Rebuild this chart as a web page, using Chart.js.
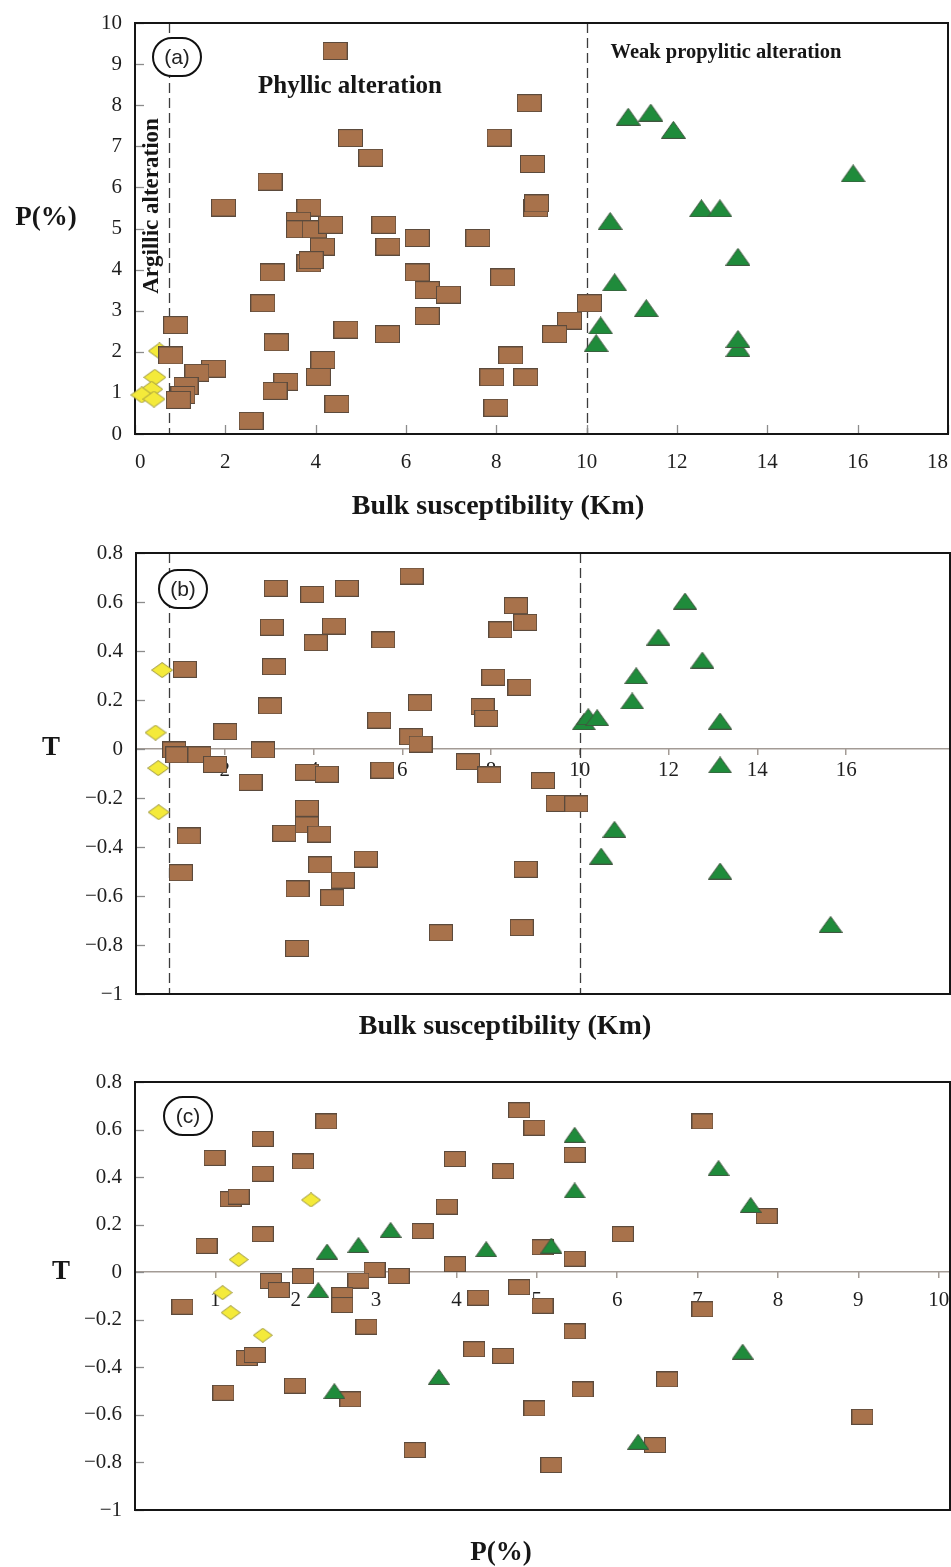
<!DOCTYPE html>
<html>
<head>
<meta charset="utf-8">
<script src="https://cdn.jsdelivr.net/npm/chart.js@4.4.0/dist/chart.umd.min.js"></script>
<style>
  body { margin: 0; background: #fff; width: 951px; height: 1567px; overflow: hidden; position: relative; }
  .panel { position: absolute; left: 0; width: 951px; }
</style>
</head>
<body>
<div class="panel" style="top:0;height:530px"><canvas id="chartA"></canvas></div>
<div class="panel" style="top:530px;height:520px"><canvas id="chartB"></canvas></div>
<div class="panel" style="top:1050px;height:517px"><canvas id="chartC"></canvas></div>
<script>
// (a) bulk susceptibility Km vs P(%)
const kmP_phyllic = [[4.43,9.32],[4.77,7.20],[5.22,6.72],[2.99,6.14],[1.96,5.51],[3.85,5.51],[3.62,5.19],[3.62,4.98],[3.97,4.98],[4.33,5.09],[4.15,4.56],[3.85,4.15],[3.90,4.23],[3.04,3.93],[2.83,3.18],[5.51,5.09],[5.60,4.56],[6.25,4.77],[6.25,3.93],[6.47,3.50],[6.94,3.39],[6.47,2.87],[5.59,2.43],[4.67,2.54],[3.13,2.23],[0.90,2.65],[0.79,1.91],[1.74,1.59],[1.37,1.49],[1.13,1.17],[1.06,0.95],[0.96,0.83],[4.16,1.80],[4.06,1.39],[3.34,1.27],[3.10,1.05],[4.47,0.73],[2.57,0.32],[8.73,8.05],[8.06,7.21],[8.80,6.57],[8.87,5.49],[8.89,5.61],[7.59,4.77],[8.14,3.81],[10.06,3.18],[9.62,2.76],[9.29,2.43],[8.32,1.91],[7.90,1.38],[8.65,1.38],[7.99,0.64]];
const kmP_propylitic = [[10.92,7.72],[11.42,7.82],[11.92,7.40],[15.90,6.34],[12.54,5.49],[12.95,5.49],[10.52,5.18],[13.35,4.31],[10.62,3.69],[11.32,3.06],[10.31,2.64],[10.21,2.21],[13.35,2.09],[13.35,2.31]];
const kmP_argillic = [[0.54,2.02],[0.44,1.38],[0.37,1.09],[0.15,0.95],[0.42,0.85]];

// (b) bulk susceptibility Km vs T
const kmT_phyllic = [[3.15,0.656],[3.97,0.631],[4.75,0.656],[6.21,0.706],[3.06,0.497],[4.46,0.502],[4.05,0.434],[5.57,0.445],[3.11,0.336],[1.10,0.325],[3.02,0.176],[6.40,0.189],[5.48,0.118],[2.01,0.071],[6.20,0.050],[6.41,0.020],[2.86,-0.004],[0.86,-0.004],[0.93,-0.024],[1.43,-0.024],[1.78,-0.063],[2.58,-0.136],[3.85,-0.095],[4.30,-0.103],[5.55,-0.086],[3.85,-0.242],[3.85,-0.310],[3.34,-0.344],[4.13,-0.347],[1.19,-0.355],[1.01,-0.505],[4.15,-0.473],[4.66,-0.535],[5.18,-0.449],[3.64,-0.571],[4.42,-0.607],[6.87,-0.750],[3.63,-0.814],[8.56,0.585],[8.77,0.517],[8.21,0.486],[8.05,0.293],[8.64,0.252],[7.81,0.173],[7.89,0.125],[7.48,-0.052],[7.96,-0.106],[9.17,-0.129],[9.50,-0.222],[9.92,-0.224],[8.78,-0.491],[8.69,-0.729]];
const kmT_propylitic = [[12.37,0.604],[11.77,0.457],[12.76,0.363],[11.27,0.299],[11.18,0.196],[13.16,0.114],[10.09,0.111],[10.19,0.132],[10.39,0.128],[13.16,-0.065],[10.78,-0.328],[10.48,-0.437],[13.16,-0.498],[15.65,-0.716]];
const kmT_argillic = [[0.59,0.322],[0.44,0.067],[0.50,-0.078],[0.51,-0.258]];

// (c) P(%) vs T
const pT_phyllic = [[2.38,0.634],[1.59,0.561],[0.99,0.481],[2.09,0.466],[1.59,0.414],[1.19,0.307],[1.29,0.318],[1.59,0.160],[0.89,0.111],[3.98,0.476],[3.88,0.276],[3.58,0.173],[3.98,0.034],[2.09,-0.016],[1.69,-0.037],[1.79,-0.075],[2.98,0.010],[2.78,-0.035],[3.28,-0.016],[2.58,-0.096],[2.58,-0.138],[0.59,-0.145],[2.88,-0.229],[4.27,-0.107],[4.22,-0.324],[1.39,-0.361],[1.49,-0.348],[1.10,-0.507],[1.99,-0.477],[2.68,-0.535],[3.48,-0.748],[4.78,0.681],[4.97,0.608],[7.06,0.634],[5.47,0.494],[4.58,0.425],[7.86,0.236],[6.07,0.160],[5.07,0.105],[5.47,0.057],[4.78,-0.063],[5.07,-0.141],[7.06,-0.156],[5.47,-0.249],[4.58,-0.352],[6.62,-0.451],[5.57,-0.493],[4.97,-0.573],[9.05,-0.608],[6.47,-0.727],[5.18,-0.811]];
const pT_propylitic = [[3.18,0.178],[2.78,0.115],[2.39,0.087],[2.28,-0.075],[2.48,-0.500],[3.78,-0.440],[4.37,0.097],[5.18,0.112],[5.47,0.578],[5.47,0.344],[7.26,0.438],[7.66,0.283],[7.56,-0.334],[6.26,-0.713]];
const pT_argillic = [[2.19,0.304],[1.29,0.053],[1.09,-0.086],[1.19,-0.170],[1.59,-0.265]];

// tick values
const kmTicksA = [0, 2, 4, 6, 8, 10, 12, 14, 16, 18];
const pTicksA = [0, 1, 2, 3, 4, 5, 6, 7, 8, 9, 10];
const kmTicksB = [2, 4, 6, 8, 10, 12, 14, 16];
const tTicks = [-1, -0.8, -0.6, -0.4, -0.2, 0, 0.2, 0.4, 0.6, 0.8];
const pTicksC = [1, 2, 3, 4, 5, 6, 7, 8, 9, 10];

// alteration boundaries on Km
const argillicLimit = 0.75;
const propyliticLimit = 10;

Chart.defaults.font.family = '"Liberation Serif", "Times New Roman", serif';
Chart.defaults.color = '#1e1e1e';

// marker sprites: w x h in px
function makeMark(kind, w, h) {
  const c = document.createElement('canvas');
  c.width = w + 1; c.height = h + 1;
  const g = c.getContext('2d');
  g.lineWidth = 1;
  if (kind === 'rect') {
    g.fillStyle = '#a8724b'; g.fillRect(0.5, 0.5, w, h);
    g.strokeStyle = '#5b4a3c'; g.strokeRect(0.5, 0.5, w, h);
  } else if (kind === 'tri') {
    g.beginPath(); g.moveTo(0.5 + w / 2, 0.5); g.lineTo(w + 0.5, h + 0.5); g.lineTo(0.5, h + 0.5); g.closePath();
    g.fillStyle = '#1f8b3b'; g.fill();
    g.strokeStyle = '#40553f'; g.stroke();
  } else {
    g.beginPath(); g.moveTo(0.5 + w / 2, 0.5); g.lineTo(w + 0.5, 0.5 + h / 2); g.lineTo(0.5 + w / 2, h + 0.5); g.lineTo(0.5, 0.5 + h / 2); g.closePath();
    g.fillStyle = '#f4ea3a'; g.fill();
    g.strokeStyle = '#9c9640'; g.stroke();
  }
  return c;
}

const toXY = arr => arr.map(([x, y]) => ({ x, y }));
const fixTicks = list => s => { s.ticks = list.map(v => ({ value: v })); };
const fmt = v => (v < 0 ? '\u2212' : '') + Math.abs(v);
const zeroLine = '#a39b95';

function deco(o) {
  return {
    id: 'deco',
    beforeDatasetsDraw(chart) {
      const { ctx, chartArea: a, scales: { x, y } } = chart;
      const line = (x1, y1, x2, y2) => { ctx.beginPath(); ctx.moveTo(x1, y1); ctx.lineTo(x2, y2); ctx.stroke(); };
      ctx.save();
      // dashed alteration limits
      ctx.strokeStyle = '#3c3c3c'; ctx.lineWidth = 1.3; ctx.setLineDash([10, 5]);
      o.limits.forEach(v => {
        const px = Math.round(x.getPixelForValue(v)) + 0.5;
        line(px, a.top, px, a.bottom);
      });
      ctx.setLineDash([]);
      // inward tick marks
      ctx.strokeStyle = '#8c8c8c'; ctx.lineWidth = 1.3;
      y.ticks.forEach(t => {
        const py = Math.round(y.getPixelForValue(t.value)) + 0.5;
        line(a.left, py, a.left + 9, py);
      });
      if (o.bottomTicks) {
        x.ticks.forEach(t => {
          const px = Math.round(x.getPixelForValue(t.value)) + 0.5;
          line(px, a.bottom, px, a.bottom - 9);
        });
      }
      // frame
      ctx.strokeStyle = '#151515'; ctx.lineWidth = 2;
      ctx.strokeRect(a.left, a.top, a.right - a.left, a.bottom - a.top);
      // panel tag
      const [cx, cy] = o.tagAt;
      ctx.beginPath(); ctx.roundRect(cx - 24, cy - 19, 48, 38, 19);
      ctx.fillStyle = '#fff'; ctx.fill();
      ctx.strokeStyle = '#111'; ctx.lineWidth = 2; ctx.stroke();
      ctx.fillStyle = '#222'; ctx.font = '21px "Liberation Sans", Arial, sans-serif';
      ctx.textAlign = 'center'; ctx.textBaseline = 'middle';
      ctx.fillText(o.tag, cx, cy + 1);
      ctx.restore();
    },
    afterDraw(chart) {
      const ctx = chart.ctx;
      ctx.save();
      ctx.fillStyle = '#161616'; ctx.textAlign = 'center'; ctx.textBaseline = 'middle';
      o.texts.forEach(t => {
        ctx.font = 'bold ' + t.size + 'px "Liberation Serif", "Times New Roman", serif';
        if (t.rot) {
          ctx.save(); ctx.translate(t.x, t.y); ctx.rotate(-Math.PI / 2);
          ctx.fillText(t.t, 0, 0); ctx.restore();
        } else {
          ctx.fillText(t.t, t.x, t.y);
        }
      });
      ctx.restore();
    }
  };
}

function panel(id, o) {
  const tickFont = { size: 21 };
  const [mw, mh] = o.mark;
  const xScale = o.midAxis ? {
    type: 'linear', min: o.xMin, max: o.xMax, position: { y: 0 }, z: o.labelsOnTop ? 1 : 0,
    afterBuildTicks: fixTicks(o.xTicks),
    afterFit: s => { s.paddingLeft = 0; s.paddingRight = 0; },
    grid: { display: true, drawOnChartArea: false, drawTicks: true, tickLength: 6, color: zeroLine, lineWidth: 1.5 },
    border: { display: false },
    ticks: { padding: o.xPad + 1, font: tickFont, color: '#1e1e1e', callback: fmt }
  } : {
    type: 'linear', min: o.xMin, max: o.xMax, position: 'bottom',
    afterBuildTicks: fixTicks(o.xTicks),
    afterFit: s => { s.height = o.xHeight; s.paddingLeft = 0; s.paddingRight = 0; },
    grid: { display: false, drawTicks: false },
    border: { display: false },
    ticks: { padding: o.xPad, align: 'inner', font: tickFont, color: '#1e1e1e', callback: fmt }
  };
  return new Chart(document.getElementById(id), {
    type: 'scatter',
    data: {
      datasets: [
        { label: 'Weak propylitic', data: toXY(o.prop), pointStyle: makeMark('tri', mw, mh), pointRadius: 4, clip: false },
        { label: 'Phyllic', data: toXY(o.phyl), pointStyle: makeMark('rect', mw, mh), pointRadius: 4, clip: false },
        { label: 'Argillic', data: toXY(o.arg), pointStyle: makeMark('dia', mw - 2, mh - 1), pointRadius: 4, clip: false }
      ]
    },
    options: {
      responsive: true,
      maintainAspectRatio: false,
      animation: false,
      layout: { padding: o.pad, autoPadding: false },
      plugins: { legend: { display: false }, tooltip: { enabled: false } },
      scales: {
        x: xScale,
        y: {
          type: 'linear', min: o.yMin, max: o.yMax,
          afterBuildTicks: fixTicks(o.yTicks),
          afterFit: s => { s.width = o.yWidth; s.paddingTop = 0; s.paddingBottom = 0; },
          // only the T = 0 grid line is shown, as the gray axis line across the panel
          grid: {
            display: !!o.midAxis, drawTicks: false, lineWidth: 1.5,
            color: c => (c.tick && c.tick.value === 0 ? zeroLine : 'rgba(0,0,0,0)')
          },
          border: { display: false },
          ticks: { padding: 13, font: tickFont, color: '#1e1e1e', callback: fmt }
        }
      }
    },
    plugins: [deco(o)]
  });
}

panel('chartA', {
  phyl: kmP_phyllic, prop: kmP_propylitic, arg: kmP_argillic, mark: [24, 17],
  xMin: 0, xMax: 18, yMin: 0, yMax: 10, xTicks: kmTicksA, yTicks: pTicksA,
  pad: { left: 0, top: 23, right: 3, bottom: 0 }, yWidth: 135, xHeight: 96, xPad: 16,
  limits: [argillicLimit, propyliticLimit], bottomTicks: true,
  tag: '(a)', tagAt: [177, 57],
  texts: [
    { t: 'P(%)', x: 46, y: 218, size: 27 },
    { t: 'Bulk susceptibility (Km)', x: 498, y: 507, size: 28 },
    { t: 'Phyllic alteration', x: 350, y: 87, size: 25 },
    { t: 'Weak propylitic alteration', x: 726, y: 53, size: 20.5 },
    { t: 'Argillic alteration', x: 152, y: 206, size: 23, rot: true }
  ]
});

panel('chartB', {
  phyl: kmT_phyllic, prop: kmT_propylitic, arg: kmT_argillic, mark: [23, 16],
  xMin: 0, xMax: 18.34, yMin: -1, yMax: 0.8, xTicks: kmTicksB, yTicks: tTicks,
  pad: { left: 0, top: 23, right: 1, bottom: 56 }, yWidth: 136, midAxis: true, labelsOnTop: true, xPad: 2,
  limits: [argillicLimit, propyliticLimit], bottomTicks: false,
  tag: '(b)', tagAt: [183, 59],
  texts: [
    { t: 'T', x: 51, y: 218, size: 27 },
    { t: 'Bulk susceptibility (Km)', x: 505, y: 497, size: 28 }
  ]
});

panel('chartC', {
  phyl: pT_phyllic, prop: pT_propylitic, arg: pT_argillic, mark: [21, 15],
  xMin: 0, xMax: 10.14, yMin: -1, yMax: 0.8, xTicks: pTicksC, yTicks: tTicks,
  pad: { left: 0, top: 32, right: 1, bottom: 57 }, yWidth: 135, midAxis: true, labelsOnTop: false, xPad: 9,
  limits: [], bottomTicks: false,
  tag: '(c)', tagAt: [188, 66],
  texts: [
    { t: 'T', x: 61, y: 222, size: 27 },
    { t: 'P(%)', x: 501, y: 503, size: 27 }
  ]
});
</script>
</body>
</html>
